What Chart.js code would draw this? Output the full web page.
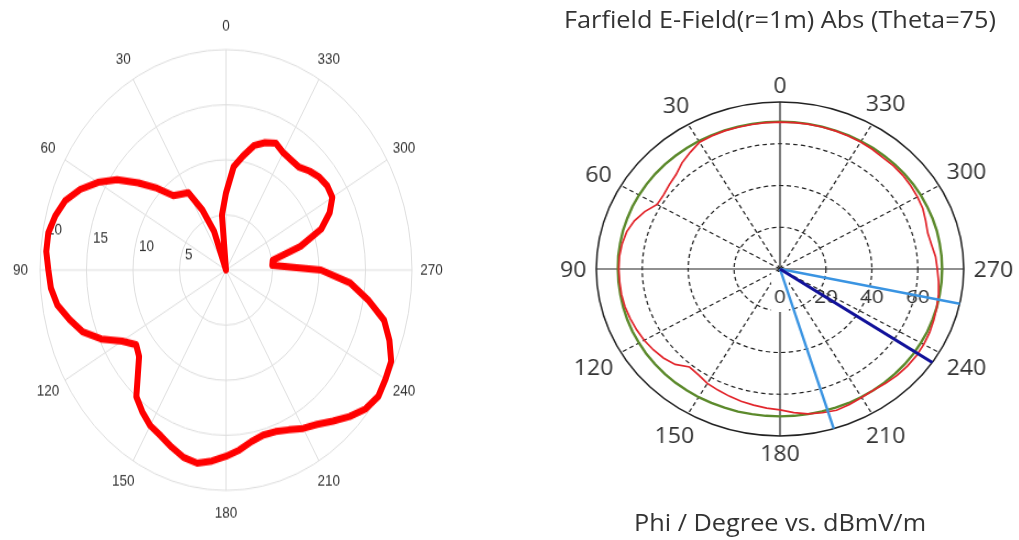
<!DOCTYPE html>
<html>
<head>
<meta charset="utf-8">
<script src="https://cdn.jsdelivr.net/npm/chart.js"></script>
<style>
  html, body { margin: 0; padding: 0; background: #fff; }
  body { width: 1019px; height: 540px; position: relative; overflow: hidden; }
  #left { position: absolute; left: 0; top: 0; width: 452px; height: 540px; transform: scaleY(1.185); transform-origin: 226px 270px; }
  #right { position: absolute; left: 560px; top: 0; width: 440px; height: 540px; transform: scaleX(1.1); transform-origin: 220px 270px; }
  .wrap { position: absolute; left: 0; top: 0; width: 100%; height: 100%; }
  .txt { position: absolute; left: 0; width: 440px; text-align: center; font: 23px "Open Sans", sans-serif; line-height: 30px; color: #333; white-space: nowrap; }
</style>
</head>
<body>
<div id="left"><div class="wrap"><canvas id="leftChart"></canvas></div></div>
<div id="right">
  <div class="wrap"><canvas id="rightChart"></canvas></div>
  <div class="txt" style="top: 4px;">Farfield E-Field(r=1m) Abs (Theta=75)</div>
  <div class="txt" style="top: 507px;">Phi / Degree vs. dBmV/m</div>
</div>
<script>
// Left polar plot, values every 5 degrees starting at phi = 0
const leftPhi = [];
for (let p = 0; p < 360; p += 5) leftPhi.push(p);
const leftValues = [
  7.0, 5.0, 0, 0, 3.7, 6.0, 8.1, 8.4, 8.8, 10.5, 12.3, 14.3,
  15.9, 17.3, 18.4, 19.0, 19.4, 19.4, 19.1, 18.9, 18.4, 17.4, 16.4, 14.8,
  12.9, 11.8, 12.2, 13.4, 15.0, 15.7, 16.3, 16.6, 17.1, 17.6, 17.8, 17.4,
  16.9, 16.4, 15.8, 15.5, 15.6, 16.0, 16.6, 17.1, 17.9, 18.8, 19.6, 20.0,
  19.8, 19.6, 18.7, 17.6, 15.5, 13.4, 10.2, 5.0, 5.1, 8.3, 10.9, 12.3,
  13.2, 13.3, 13.1, 12.7, 12.2, 12.2, 12.3, 12.7, 12.3, 11.7, 10.5, 9.4
];
const leftAngleTicks = [0, 30, 60, 90, 120, 150, 180, 210, 240, 270, 300, 330];
const leftRadialTicks = [5, 10, 15, 20];

// Right polar plot (CST farfield), red and green every 5 degrees
const redPhi = leftPhi;
const redValues = [
  70.4, 70.4, 70.3, 70.3, 70.4, 70.3, 70.1, 68.2, 66.4, 64.0, 62.9, 61.9,
  61.8, 65.0, 67.5, 69.1, 69.8, 70.2, 70.2, 70.1, 70.1, 69.9, 69.4, 68.9,
  68.3, 67.4, 66.3, 64.6, 61.3, 61.9, 63.3, 64.0, 64.8, 65.6, 66.2, 66.9,
  67.5, 69.1, 70.5, 71.3, 72.0, 71.6, 71.1, 70.9, 71.5, 72.1, 72.4, 72.5,
  72.3, 71.9, 71.3, 70.7, 70.1, 69.3, 68.5, 68.0, 67.0, 66.6, 67.5, 68.6,
  69.1, 69.5, 69.8, 69.9, 69.7, 70.0, 70.2, 70.3, 70.4, 70.4, 70.5, 70.4
];
const greenPhi = leftPhi;
const greenValues = [
  70.6, 70.6, 70.6, 70.6, 70.7, 70.7, 70.8, 70.8, 70.8, 70.9, 70.9, 70.9,
  70.9, 70.9, 70.8, 70.8, 70.7, 70.7, 70.6, 70.6, 70.6, 70.7, 70.8, 70.9,
  70.9, 71.0, 71.0, 71.0, 71.0, 70.9, 70.9, 70.8, 70.7, 70.7, 70.6, 70.6,
  70.6, 70.6, 70.6, 70.6, 70.7, 70.8, 70.8, 70.9, 70.9, 70.9, 70.9, 70.9,
  70.8, 70.8, 70.7, 70.7, 70.6, 70.6, 70.6, 70.6, 70.6, 70.7, 70.7, 70.7,
  70.8, 70.8, 70.8, 70.8, 70.7, 70.7, 70.6, 70.6, 70.6, 70.6, 70.6, 70.6
];
const mainLobePhi = 236;
const beamEdgePhi = [197, 258];
const rightMax = 80;
const rightAngleTicks = [0, 30, 60, 90, 120, 150, 180, 210, 240, 270, 300, 330];
const rightRadialTicks = [0, 20, 40, 60];

// radar charts run clockwise from the top, phi runs the other way
const leftLabels = leftPhi.map((p, i) => String((360 - i * 5) % 360));
const leftData = leftPhi.map((p, i) => leftValues[(leftPhi.length - i) % leftPhi.length]);

const rightLabels = [];
for (let i = 0; i < 360; i++) rightLabels.push(String((360 - i) % 360));
const idx = (phi) => (360 - phi) % 360;
function toSlots(phis, vals) {
  const out = new Array(360).fill(null);
  phis.forEach((p, k) => { out[idx(p)] = vals[k]; });
  return out;
}
function spoke(phi) {
  const out = new Array(360).fill(null);
  out[idx(phi)] = rightMax;
  out[(idx(phi) + 1) % 360] = 0;
  return out;
}

const leftText = {
  id: 'leftText',
  beforeDatasetsDraw(chart) {
    const s = chart.scales.r, c = chart.ctx;
    c.save();
    c.fillStyle = '#333';
    c.font = '13.5px "Liberation Sans", Arial, sans-serif';
    c.textAlign = 'center';
    c.textBaseline = 'middle';
    leftAngleTicks.forEach(a => {
      const rad = a * Math.PI / 180, d = s.drawingArea + 19.5;
      c.fillText(String(a), s.xCenter - Math.sin(rad) * d, s.yCenter - Math.cos(rad) * d);
    });
    c.textAlign = 'left';
    const ta = 81.5 * Math.PI / 180;
    leftRadialTicks.forEach(v => {
      const d = s.getDistanceFromCenterForValue(v);
      c.fillText(String(v), s.xCenter - Math.sin(ta) * d + 5, s.yCenter - Math.cos(ta) * d - 6);
    });
    c.restore();
  }
};

const rightText = {
  id: 'rightText',
  beforeDatasetsDraw(chart) {
    const s = chart.scales.r, c = chart.ctx;
    c.save();
    c.fillStyle = '#fff';
    c.fillRect(s.xCenter - 8, s.yCenter + 3, 16, 40);
    c.fillStyle = '#333';
    c.textAlign = 'center';
    c.textBaseline = 'middle';
    c.font = '21px "Open Sans", sans-serif';
    rightAngleTicks.forEach(a => {
      const t = String(a);
      const w = c.measureText(t).width;
      const rad = a * Math.PI / 180;
      const ux = -Math.sin(rad), uy = -Math.cos(rad);
      const d = s.drawingArea + 9 + Math.abs(ux) * w / 2 + Math.abs(uy) * 8;
      c.fillText(t, s.xCenter + ux * d, s.yCenter + uy * d + 2);
    });
    c.font = '19px "Open Sans", sans-serif';
    rightRadialTicks.forEach(v => {
      c.fillText(String(v), s.xCenter + s.getDistanceFromCenterForValue(v), s.yCenter + 29);
    });
    c.restore();
  }
};

// Left chart
const ctxLeft = document.getElementById('leftChart').getContext('2d');
const leftChart = new Chart(ctxLeft, {
  type: 'radar',
  data: {
    labels: leftLabels,
    datasets: [{
      data: leftData,
      borderColor: '#ff0000',
      borderWidth: 6,
      borderJoinStyle: 'round',
      fill: false,
      pointRadius: 0,
      tension: 0
    }]
  },
  options: {
    responsive: true,
    maintainAspectRatio: false,
    animation: false,
    events: [],
    layout: { padding: { left: 40, right: 40, top: 84, bottom: 84 } },
    plugins: { legend: { display: false }, tooltip: { enabled: false } },
    scales: {
      r: {
        min: 0,
        max: 20,
        ticks: { display: false, stepSize: 5 },
        grid: { circular: true, color: '#dedede', lineWidth: 1 },
        angleLines: { color: '#dedede', lineWidth: (c) => c.index % 6 === 0 ? 1 : 0 },
        pointLabels: { display: false }
      }
    }
  },
  plugins: [leftText]
});

// Right chart
const ctxRight = document.getElementById('rightChart').getContext('2d');
const rightChart = new Chart(ctxRight, {
  type: 'radar',
  data: {
    labels: rightLabels,
    datasets: [
      { data: spoke(mainLobePhi), borderColor: '#12129a', borderWidth: 3 },
      { data: spoke(beamEdgePhi[0]), borderColor: '#3a94e2', borderWidth: 2.4 },
      { data: spoke(beamEdgePhi[1]), borderColor: '#3a94e2', borderWidth: 2.4 },
      { data: toSlots(redPhi, redValues), borderColor: '#e2262c', borderWidth: 1.7 },
      { data: toSlots(greenPhi, greenValues), borderColor: '#5c8a2c', borderWidth: 2.4 }
    ].map(d => Object.assign(d, { fill: false, pointRadius: 0, spanGaps: true, tension: 0 }))
  },
  options: {
    responsive: true,
    maintainAspectRatio: false,
    animation: false,
    events: [],
    layout: { padding: { left: 53, right: 53, top: 102, bottom: 104 } },
    plugins: { legend: { display: false }, tooltip: { enabled: false } },
    scales: {
      r: {
        min: 0,
        max: rightMax,
        ticks: { display: false, stepSize: 20 },
        grid: {
          circular: true,
          color: '#222',
          lineWidth: (c) => c.tick && c.tick.value === rightMax ? 1.5 : 1.2
        },
        border: { dash: (c) => c.tick && c.tick.value === rightMax ? [] : [4, 3] },
        angleLines: {
          color: '#222',
          lineWidth: (c) => c.index % 30 === 0 ? 1.2 : 0,
          borderDash: (c) => c.index % 90 === 0 ? [] : [4, 3]
        },
        pointLabels: { display: false }
      }
    }
  },
  plugins: [rightText]
});
</script>
</body>
</html>
